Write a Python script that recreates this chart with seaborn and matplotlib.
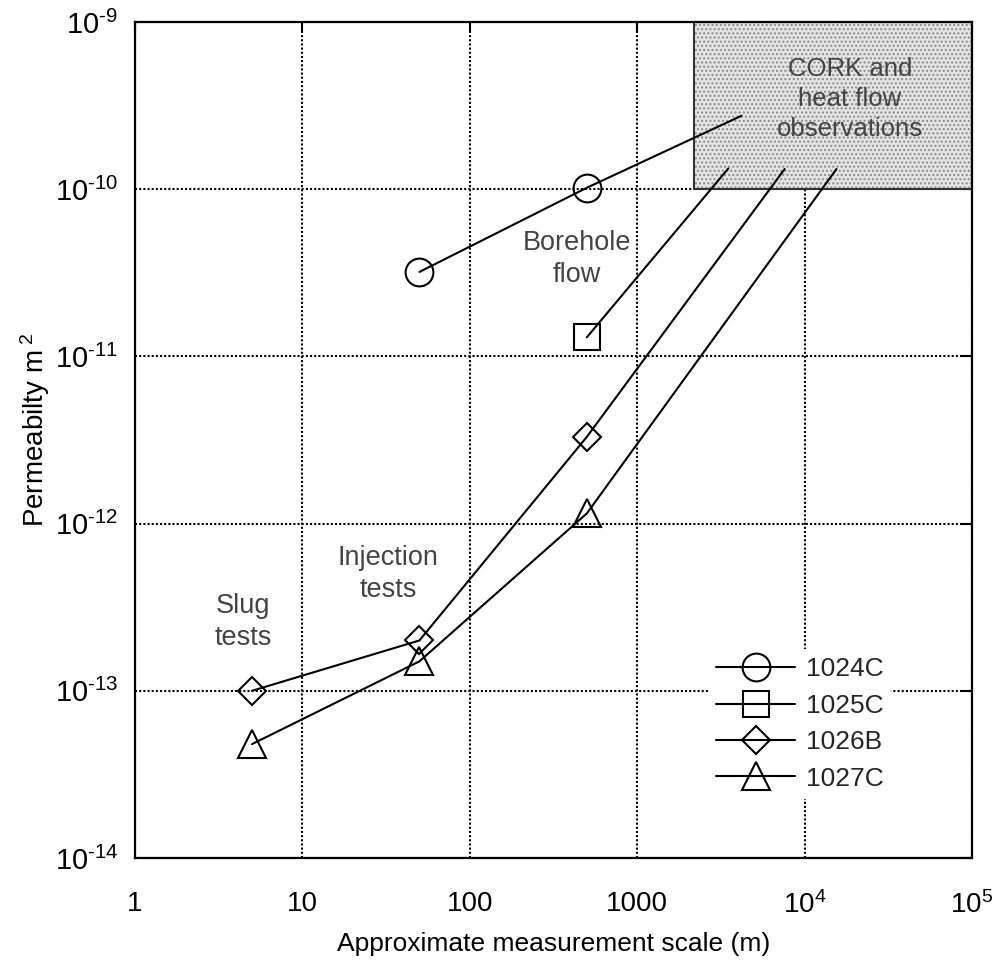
import matplotlib
matplotlib.use("Agg")
import matplotlib.pyplot as plt
import seaborn as sns
import pandas as pd
from matplotlib.patches import Rectangle
from matplotlib.lines import Line2D
from matplotlib import font_manager

# ---------------- data ----------------
sites = ["1024C", "1025C", "1026B", "1027C"]
site_markers = ["o", "s", "D", "^"]

scale_1024C = [50, 500, 4200]
perm_1024C = [3.2e-11, 1.02e-10, 2.75e-10]
scale_1025C = [500, 3500]
perm_1025C = [1.3e-11, 1.33e-10]
scale_1026B = [5, 50, 500, 7600]
perm_1026B = [1.0e-13, 2.0e-13, 3.3e-12, 1.32e-10]
scale_1027C = [5, 50, 500, 15500]
perm_1027C = [4.8e-14, 1.5e-13, 1.15e-12, 1.32e-10]
# number of measured points per site (the last point only extends the line
# toward the CORK / heat-flow box)
n_measured = [2, 1, 3, 3]

cork_x = [2190, 1e5]
cork_y = [1e-10, 1e-9]

x_ticks = [1, 10, 100, 1000, 1e4, 1e5]
x_tick_labels = ["1", "10", "100", "1000", r"$10^{4}$", r"$10^{5}$"]
y_ticks = [1e-14, 1e-13, 1e-12, 1e-11, 1e-10, 1e-9]
y_tick_labels = [r"$10^{\text{-14}}$", r"$10^{\text{-13}}$", r"$10^{\text{-12}}$",
                 r"$10^{\text{-11}}$", r"$10^{\text{-10}}$", r"$10^{\text{-9}}$"]

annotations = ["CORK and\nheat flow\nobservations", "Borehole\nflow",
               "Injection\ntests", "Slug\ntests"]

# ---------------- fonts ----------------
def has_font(name):
    try:
        font_manager.findfont(font_manager.FontProperties(family=name),
                              fallback_to_default=False)
        return True
    except Exception:
        return False

NARROW = "Liberation Sans Narrow" if has_font("Liberation Sans Narrow") else "Liberation Sans"
NORMAL = "Liberation Sans"

sns.set_theme(style="white")
plt.rcParams["font.family"] = [NORMAL, "DejaVu Sans"]
plt.rcParams["mathtext.fontset"] = "custom"
plt.rcParams["mathtext.rm"] = NARROW
plt.rcParams["mathtext.it"] = NARROW
plt.rcParams["mathtext.bf"] = NARROW
plt.rcParams["hatch.linewidth"] = 1.0

fig = plt.figure(figsize=(9.97, 9.66), dpi=100)
ax = fig.add_axes([135 / 997, 1 - 858 / 966, 837 / 997, 836 / 966])
ax.set_xscale("log")
ax.set_yscale("log")
ax.set_xlim(1, 1e5)
ax.set_ylim(1e-14, 1e-9)
ax.set_facecolor("white")

# grid below
ax.set_axisbelow(True)
ax.grid(True, which="major", color="black", linestyle=(0, (1, 1)), linewidth=1.5)
ax.minorticks_off()

# CORK box
ax.add_patch(Rectangle((cork_x[0], cork_y[0]), cork_x[1] - cork_x[0], cork_y[1] - cork_y[0],
                       facecolor="#e4e4e4", edgecolor="#8c8c8c", hatch="....",
                       linewidth=0, zorder=1.5))
ax.add_patch(Rectangle((cork_x[0], cork_y[0]), cork_x[1] - cork_x[0], cork_y[1] - cork_y[0],
                       facecolor="none", edgecolor="#333333", linewidth=1.5, zorder=1.6))

all_x = [scale_1024C, scale_1025C, scale_1026B, scale_1027C]
all_y = [perm_1024C, perm_1025C, perm_1026B, perm_1027C]
msizes = {"o": 20, "s": 19, "D": 14, "^": 20}

handles = []
for site, mk, xs, ys, nm in zip(sites, site_markers, all_x, all_y, n_measured):
    df = pd.DataFrame({"scale": xs, "perm": ys})
    sns.lineplot(data=df, x="scale", y="perm", ax=ax, color="black", linewidth=1.5,
                 estimator=None, sort=False, zorder=3)
    dm = df.iloc[:nm]
    sns.lineplot(data=dm, x="scale", y="perm", ax=ax, color="black", linestyle="none",
                 marker=mk, markersize=msizes[mk], markerfacecolor="none",
                 markeredgecolor="black", markeredgewidth=1.5,
                 estimator=None, sort=False, zorder=4)
    handles.append(Line2D([], [], color="black", linewidth=1.5, marker=mk,
                          markersize=msizes[mk], markerfacecolor="none",
                          markeredgecolor="black", markeredgewidth=1.5, label=site))

leg = ax.legend(handles=handles, loc="center left",
                bbox_to_anchor=((708 - 135) / 837, 1 - (724 - 22) / 836),
                frameon=True, facecolor="white", edgecolor="none", framealpha=1,
                handlelength=3.0, handletextpad=0.4,
                labelspacing=0.47, borderpad=0.3, borderaxespad=0,
                prop={"family": NORMAL, "size": 19})
leg.set_zorder(5)

# ticks
ax.set_xticks(x_ticks)
ax.set_xticklabels(x_tick_labels)
ax.set_yticks(y_ticks)
ax.set_yticklabels(y_tick_labels)
ax.tick_params(axis="both", which="major", direction="in", length=7, width=1.5,
               color="black", top=True, right=True, labelsize=21, labelcolor="black")
ax.tick_params(axis="x", pad=24, labelsize=20)
ax.tick_params(axis="y", pad=12)
for lab in ax.get_xticklabels() + ax.get_yticklabels():
    lab.set_fontfamily(NARROW)

for sp in ax.spines.values():
    sp.set_visible(True)
    sp.set_color("black")
    sp.set_linewidth(1.6)

ax.set_xlabel("Approximate measurement scale (m)", fontsize=19, family=NARROW,
              color="black")
ax.xaxis.set_label_coords(0.5, (858 - 932) / 836)
ax.set_ylabel(r"Permeabilty m$^{\,\,2}$", fontsize=20, family=NARROW, color="black")
ax.yaxis.set_label_coords((52 - 135) / 837, 1 - (430 - 22) / 836)

txt_kw = dict(transform=ax.transAxes, ha="center", va="center", color="#444444",
              family=NORMAL, linespacing=1.3, zorder=4)
ax.text((850 - 135) / 837, 1 - (99 - 22) / 836, annotations[0], fontsize=18.5, **txt_kw)
ax.text((577 - 135) / 837, 1 - (259 - 22) / 836, annotations[1], fontsize=19.5, **txt_kw)
ax.text((388 - 135) / 837, 1 - (574 - 22) / 836, annotations[2], fontsize=19.5, **txt_kw)
ax.text((243 - 135) / 837, 1 - (622 - 22) / 836, annotations[3], fontsize=19.5, **txt_kw)

fig.savefig("out.png", dpi=100, facecolor="white")
